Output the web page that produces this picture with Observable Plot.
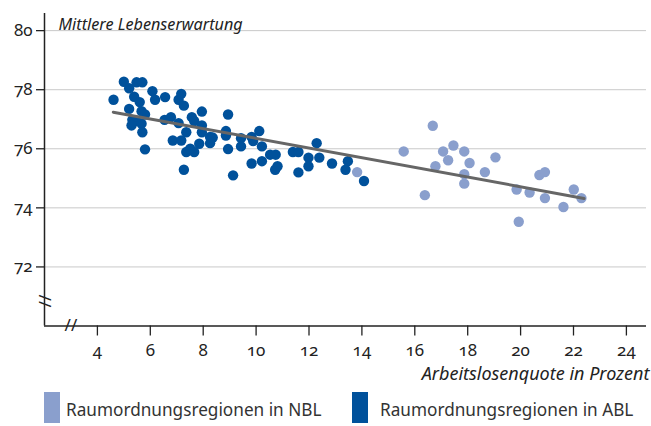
<!DOCTYPE html>
<html><head><meta charset="utf-8">
<script src="https://cdn.jsdelivr.net/npm/d3@7"></script>
<script src="https://cdn.jsdelivr.net/npm/@observablehq/plot@0.6"></script>
<style>
body{margin:0;background:#fff;font-family:"Noto Sans",sans-serif;color:#222;}
#chart svg{font-variant-numeric:oldstyle-nums;font-feature-settings:"onum";}
#legend{position:relative;height:38px;width:651px;}
.sw{position:absolute;top:4px;width:16px;height:31px;}
.lt{position:absolute;top:10px;font-size:17.2px;color:#333;white-space:nowrap;}
</style></head><body>
<div id="chart"></div>
<div id="legend"></div>
<script>
// ABL (alte Bundesländer) regions: unemployment rate (%) and life expectancy
const ablX=[4.61,5.00,5.20,5.39,5.48,5.70,5.60,5.20,5.67,5.80,5.32,5.48,5.29,5.67,5.70,5.80,6.08,6.18,6.56,6.54,6.78,6.85,7.07,7.17,7.27,7.07,7.17,7.27,7.36,7.36,7.57,7.66,7.66,7.51,7.95,7.95,7.95,7.85,8.26,8.26,8.36,8.94,8.86,8.86,8.94,9.13,9.43,9.43,9.83,9.89,10.12,10.22,9.83,10.22,10.53,10.74,10.72,10.81,11.39,11.60,11.60,11.98,11.98,12.29,12.39,12.87,13.47,13.38,14.08];
const ablY=[77.66,78.27,78.05,77.76,78.25,78.25,77.58,77.35,77.27,77.16,76.98,76.94,76.79,76.85,76.56,75.98,77.95,77.66,77.75,76.98,77.07,76.28,77.66,77.86,77.46,76.87,76.28,75.29,76.56,75.89,77.07,76.94,75.89,76.00,77.26,76.79,76.56,76.17,76.40,76.19,76.38,77.16,76.60,76.45,75.99,75.10,76.36,76.08,76.40,76.26,76.60,76.08,75.50,75.58,75.80,75.80,75.29,75.41,75.89,75.89,75.20,75.70,75.41,76.19,75.70,75.50,75.58,75.29,74.91];
// NBL (neue Bundesländer) regions
const nblX=[13.82,15.58,16.38,16.68,16.78,17.07,17.26,17.46,17.87,17.87,17.87,18.07,18.65,19.05,19.85,19.93,20.34,20.71,20.92,20.92,21.62,22.01,22.30];
const nblY=[75.21,75.91,74.43,76.78,75.41,75.91,75.61,76.11,75.91,75.14,74.82,75.52,75.21,75.71,74.62,73.53,74.52,75.11,75.21,74.33,74.03,74.62,74.33];
// regression line end points
const trendX=[4.6,22.4];
const trendY=[77.24,74.32];
const xTicks=[4,6,8,10,12,14,16,18,20,22,24];
const yTicks=[72,74,76,78,80];
const seriesNames=["Raumordnungsregionen in NBL","Raumordnungsregionen in ABL"];
const seriesColors=["#8a9fcd","#00519b"];
const titleText="Mittlere Lebenserwartung";
const xLabel="Arbeitslosenquote in Prozent";

const abl=ablX.map((x,i)=>({x,y:ablY[i]}));
const nbl=nblX.map((x,i)=>({x,y:nblY[i]}));
const trend=trendX.map((x,i)=>({x,y:trendY[i]}));

const H=388;
const chart=Plot.plot({
  width:651,height:H,
  marginLeft:44,marginRight:5,marginTop:13,marginBottom:H-325.5,
  style:{fontFamily:"'Noto Sans',sans-serif",color:"#222",background:"#fff"},
  x:{domain:[2,24.76]},
  y:{domain:[70,80.58]},
  marks:[
    Plot.gridY(yTicks,{stroke:"#c9c9c9",strokeOpacity:1,strokeWidth:1}),
    Plot.axisY(yTicks,{tickSize:8,tickPadding:4,fontSize:17,label:null,stroke:"#222",strokeWidth:1.3}),
    Plot.axisX(xTicks,{tickSize:10,tickPadding:8,fontSize:17,label:null,stroke:"#222",strokeWidth:1.3}),
    Plot.ruleX([2],{stroke:"#222",strokeWidth:1.5}),
    Plot.ruleY([70],{stroke:"#222",strokeWidth:1.5}),
    Plot.text(["//"],{x:3,y:70,fontSize:17,fill:"#222"}),
    Plot.text(["//"],{x:2,y:70.85,fontSize:17,fill:"#222",rotate:90}),
    Plot.dot(nbl,{x:"x",y:"y",r:5.2,fill:seriesColors[0],stroke:"none"}),
    Plot.dot(abl,{x:"x",y:"y",r:5.2,fill:seriesColors[1],stroke:"none"}),
    Plot.line(trend,{x:"x",y:"y",stroke:"#666",strokeWidth:3}),
    Plot.text([titleText],{frameAnchor:"top-left",dx:14,dy:5,textAnchor:"start",fontSize:16.2,fontStyle:"italic",fill:"#222"}),
    Plot.text([xLabel],{frameAnchor:"bottom-right",dx:3,dy:54,textAnchor:"end",fontSize:18,fontStyle:"italic",fill:"#222"})
  ]
});
document.getElementById("chart").appendChild(chart);

const leg=document.getElementById("legend");
const pos=[[44,66],[352,380]];
seriesNames.forEach((n,i)=>{
  const s=document.createElement("div");s.className="sw";s.style.left=pos[i][0]+"px";s.style.background=seriesColors[i];leg.appendChild(s);
  const t=document.createElement("div");t.className="lt";t.style.left=pos[i][1]+"px";t.textContent=n;leg.appendChild(t);
});
</script>
</body></html>
